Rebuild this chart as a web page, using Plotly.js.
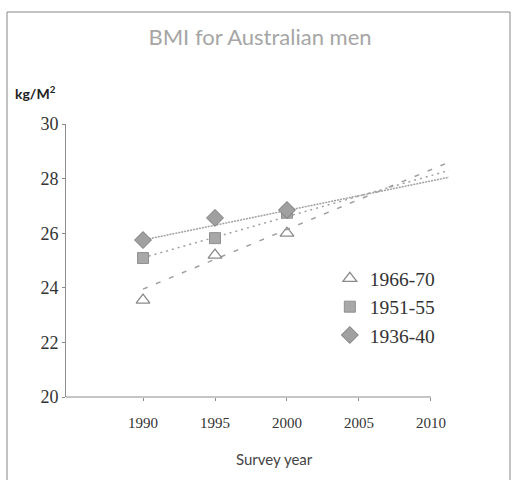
<!DOCTYPE html>
<html>
<head>
<meta charset="utf-8">
<script src="https://cdn.plot.ly/plotly-3.0.1.min.js"></script>
<style>html,body{margin:0;padding:0;background:#fff;}#chart{width:512px;height:480px;}</style>
</head>
<body>
<div id="chart"></div>
<script>
// Survey years
const years = [1990, 1995, 2000];
// Birth cohorts (legend names)
const cohorts = ["1966-70", "1951-55", "1936-40"];
// BMI values per cohort
const bmi6670 = [23.55, 25.2, 26.0];
const bmi5155 = [25.09, 25.82, 26.75];
const bmi3640 = [25.75, 26.56, 26.85];
// Linear trend lines as drawn (start / end)
const trendYears = [1990, 2011.25];
const trend6670 = [23.95, 28.6];
const trend5155 = [25.1, 28.3];
const trend3640 = [25.75, 28.05];
// Axis ticks
const xTicks = [1990, 1995, 2000, 2005, 2010];
const yTicks = [20, 22, 24, 26, 28, 30];

const grey = "#8c8c8c";
const traces = [
  {x: trendYears, y: trend3640, mode: "lines", showlegend: false, hoverinfo: "skip",
   line: {color: "#a0a0a0", width: 1.5, dash: "2px,1px"}},
  {x: trendYears, y: trend5155, mode: "lines", showlegend: false, hoverinfo: "skip",
   line: {color: "#a0a0a0", width: 1.5, dash: "2px,4px"}},
  {x: trendYears, y: trend6670, mode: "lines", showlegend: false, hoverinfo: "skip",
   line: {color: "#a0a0a0", width: 1.5, dash: "5px,9px"}},
  {x: years, y: bmi6670, name: cohorts[0], mode: "markers",
   marker: {symbol: "triangle-up-open", size: 12, color: "#8a8a8a", line: {width: 1.3}}},
  {x: years, y: bmi5155, name: cohorts[1], mode: "markers",
   marker: {symbol: "square", size: 11, color: "#a8a8a8", line: {color: "#909090", width: 1}}},
  {x: years, y: bmi3640, name: cohorts[2], mode: "markers",
   marker: {symbol: "diamond", size: 13, color: "#a0a0a0", line: {color: "#7a7a7a", width: 1}}}
];

const xMin = 1984.65;
const layout = {
  width: 512, height: 480,
  margin: {l: 66, r: 58, t: 124, b: 83},
  paper_bgcolor: "#fff", plot_bgcolor: "#fff",
  title: {text: "BMI for Australian men", x: 0.5, xanchor: "center", xref: "paper",
          y: 1 - 37/480, yanchor: "middle",
          font: {family: "Lato, 'Open Sans', sans-serif", size: 22, color: "#a6a6a6"}},
  xaxis: {range: [xMin, 2011.6], tickvals: xTicks, ticktext: xTicks.map(String),
          showgrid: false, zeroline: false, showline: false,
          ticks: "outside", ticklen: 3, tickcolor: grey, ticklabelstandoff: 9,
          tickfont: {family: "'Liberation Serif', serif", size: 15, color: "#333"}},
  yaxis: {range: [20, 30], tickvals: yTicks, ticktext: yTicks.map(String),
          showgrid: false, zeroline: false, showline: true, linecolor: grey, linewidth: 1,
          ticks: "outside", ticklen: 3, tickcolor: grey,
          tickfont: {family: "'Liberation Serif', serif", size: 18, color: "#333"}},
  legend: {x: 0.68, y: 0.505, xanchor: "left", yanchor: "top", bgcolor: "rgba(0,0,0,0)",
           font: {family: "'Liberation Serif', serif", size: 19.5, color: "#333"},
           tracegroupgap: 0},
  annotations: [
    {text: "kg/M<sup>2</sup>", xref: "paper", yref: "paper", showarrow: false,
     x: (13 - 66) / 388, y: (397 - 93) / 273, xanchor: "left", yanchor: "middle",
     font: {family: "Lato, 'Open Sans', sans-serif", size: 14, color: "#222", weight: "bold"}},
    {text: "Survey year", xref: "paper", yref: "paper", showarrow: false,
     x: (274 - 66) / 388, y: (397 - 459) / 273, xanchor: "center", yanchor: "middle",
     font: {family: "Lato, 'Open Sans', sans-serif", size: 15, color: "#444"}}
  ],
  shapes: [
    {type: "line", xref: "x", yref: "paper", x0: xMin, x1: 2010, y0: 0, y1: 0,
     line: {color: grey, width: 1}},
    {type: "rect", xref: "paper", yref: "paper", layer: "below",
     x0: (7 - 66) / 388, x1: (510 - 66) / 388, y0: (397 - 490) / 273, y1: (397 - 12) / 273,
     line: {color: "#888", width: 1}}
  ]
};

Plotly.newPlot("chart", traces, layout, {staticPlot: true, displayModeBar: false});
</script>
</body>
</html>
